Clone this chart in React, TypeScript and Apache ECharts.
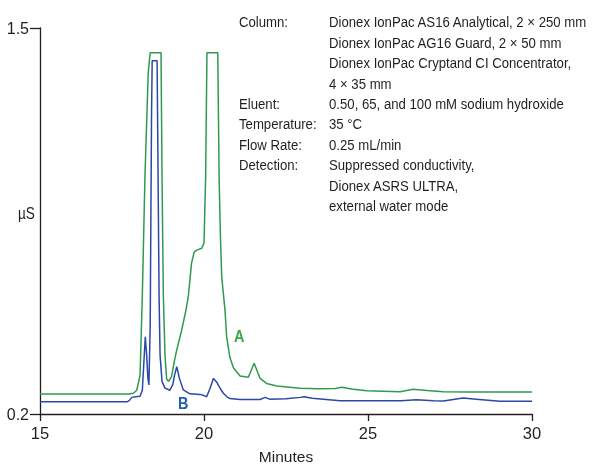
import React, { useEffect, useRef } from "react";
import * as echarts from "echarts";

const xTicks = [15, 20, 25, 30];
const yTickLabels = [0.2, 1.5];

const minutesA = [15, 17.7, 17.85, 17.95, 18.05, 18.12, 18.2, 18.3, 18.36, 18.69, 18.72, 18.76, 18.81, 18.86, 18.92, 19.01, 19.1, 19.17, 19.32, 19.45, 19.52, 19.62, 19.7, 19.78, 19.93, 20.0, 20.05, 20.09, 20.42, 20.46, 20.5, 20.54, 20.64, 20.69, 20.79, 20.9, 21.1, 21.35, 21.45, 21.53, 21.62, 21.71, 21.91, 22.22, 22.93, 23.5, 24.0, 24.2, 24.5, 24.96, 25.98, 26.38, 26.8, 27.3, 28.0, 30];
const signalA = [0.267, 0.267, 0.27, 0.28, 0.33, 0.6, 1.0, 1.35, 1.417, 1.417, 1.0, 0.6, 0.4, 0.318, 0.31, 0.326, 0.38, 0.416, 0.483, 0.55, 0.595, 0.708, 0.745, 0.752, 0.758, 0.775, 1.0, 1.417, 1.417, 1.0, 0.8, 0.662, 0.55, 0.46, 0.39, 0.355, 0.328, 0.324, 0.35, 0.371, 0.345, 0.32, 0.303, 0.294, 0.287, 0.285, 0.286, 0.29, 0.284, 0.278, 0.275, 0.283, 0.279, 0.275, 0.274, 0.274];

const minutesB = [15, 17.65, 17.72, 17.8, 17.9, 18.05, 18.12, 18.17, 18.21, 18.25, 18.29, 18.32, 18.36, 18.4, 18.42, 18.57, 18.6, 18.63, 18.66, 18.72, 18.81, 18.96, 19.05, 19.1, 19.17, 19.25, 19.37, 19.57, 19.88, 20.0, 20.08, 20.18, 20.29, 20.4, 20.5, 20.59, 20.7, 20.79, 21.1, 21.71, 21.86, 22.0, 22.5, 22.93, 23.05, 23.3, 24.15, 26.0, 26.48, 27.0, 27.3, 27.9, 28.3, 29.02, 30];
const signalB = [0.241, 0.241, 0.245, 0.256, 0.258, 0.26, 0.28, 0.38, 0.46, 0.4, 0.32, 0.298, 0.5, 1.2, 1.39, 1.39, 1.0, 0.6, 0.4, 0.31, 0.287, 0.28, 0.3, 0.33, 0.359, 0.32, 0.281, 0.268, 0.266, 0.262, 0.258, 0.285, 0.32, 0.305, 0.285, 0.27, 0.258, 0.252, 0.249, 0.249, 0.256, 0.25, 0.251, 0.256, 0.258, 0.253, 0.245, 0.245, 0.248, 0.245, 0.244, 0.254, 0.25, 0.243, 0.243];

const infoLabels = ["Column:", "", "", "", "Eluent:", "Temperature:", "Flow Rate:", "Detection:", "", ""];
const infoValues = [
  "Dionex IonPac AS16 Analytical, 2 × 250 mm",
  "Dionex IonPac AG16 Guard, 2 × 50 mm",
  "Dionex IonPac Cryptand CI Concentrator,",
  "4 × 35 mm",
  "0.50, 65, and 100 mM sodium hydroxide",
  "35 °C",
  "0.25 mL/min",
  "Suppressed conductivity,",
  "Dionex ASRS ULTRA,",
  "external water mode",
];

const FONT = '"Liberation Sans", Arial, sans-serif';
const INK = "#231f20";
const GREEN = "#2f9a4f";
const BLUE = "#2b48a8";
const SQUEEZE = 0.85;

export default function App() {
  const ref = useRef<HTMLDivElement>(null);
  useEffect(() => {
    if (!ref.current) return;
    const chart = echarts.init(ref.current, null, { renderer: "svg" });
    const graphics: any[] = [];
    const addText = (t: string, x: number, y: number, font: string, fill: string) => {
      graphics.push({
        type: "text",
        x,
        y,
        scaleX: SQUEEZE,
        style: { text: t, font, fill, textAlign: "left", textVerticalAlign: "top", verticalAlign: "top" },
      });
    };
    infoLabels.forEach((t, i) => {
      if (t) addText(t, 239, 14 + i * 20.4, `15.5px ${FONT}`, INK);
    });
    infoValues.forEach((t, i) => {
      addText(t, 329, 14 + i * 20.4, `15.5px ${FONT}`, INK);
    });
    addText("A", 234, 328, `bold 17px ${FONT}`, "#3aaa48");
    addText("B", 178, 395, `bold 17px ${FONT}`, "#1f5fb0");
    addText("µS", 18, 206, `16px ${FONT}`, INK);

    chart.setOption({
      animation: false,
      grid: { left: 40, right: 60, top: 28, bottom: 50, containLabel: false, outerBoundsMode: "none" },
      xAxis: {
        type: "value",
        min: 15,
        max: 30,
        interval: 5,
        name: "Minutes",
        nameLocation: "middle",
        nameGap: 34,
        nameTextStyle: { fontFamily: FONT, fontSize: 15.5, color: INK },
        axisLine: { lineStyle: { color: INK, width: 1.3 } },
        axisTick: { length: 7, lineStyle: { color: INK, width: 1.3 }, customValues: xTicks },
        axisLabel: { fontFamily: FONT, fontSize: 16.5, color: INK, margin: 10, customValues: xTicks },
        splitLine: { show: false },
      },
      yAxis: {
        type: "value",
        min: 0.2,
        max: 1.5,
        axisLine: { show: true, lineStyle: { color: INK, width: 1.3 } },
        axisTick: { show: true, length: 10, lineStyle: { color: INK, width: 1.3 }, customValues: yTickLabels },
        axisLabel: { fontFamily: FONT, fontSize: 16, color: INK, margin: 11, customValues: yTickLabels },
        splitLine: { show: false },
      },
      series: [
        {
          type: "line",
          name: "A",
          data: minutesA.map((x, i) => [x, signalA[i]]),
          showSymbol: false,
          symbol: "none",
          lineStyle: { color: GREEN, width: 1.5 },
          z: 2,
        },
        {
          type: "line",
          name: "B",
          data: minutesB.map((x, i) => [x, signalB[i]]),
          showSymbol: false,
          symbol: "none",
          lineStyle: { color: BLUE, width: 1.5 },
          z: 3,
        },
      ],
      graphic: graphics,
    });
    return () => chart.dispose();
  }, []);
  return <div ref={ref} style={{ position: "fixed", left: 0, top: 0, width: 592, height: 464 }} />;
}
